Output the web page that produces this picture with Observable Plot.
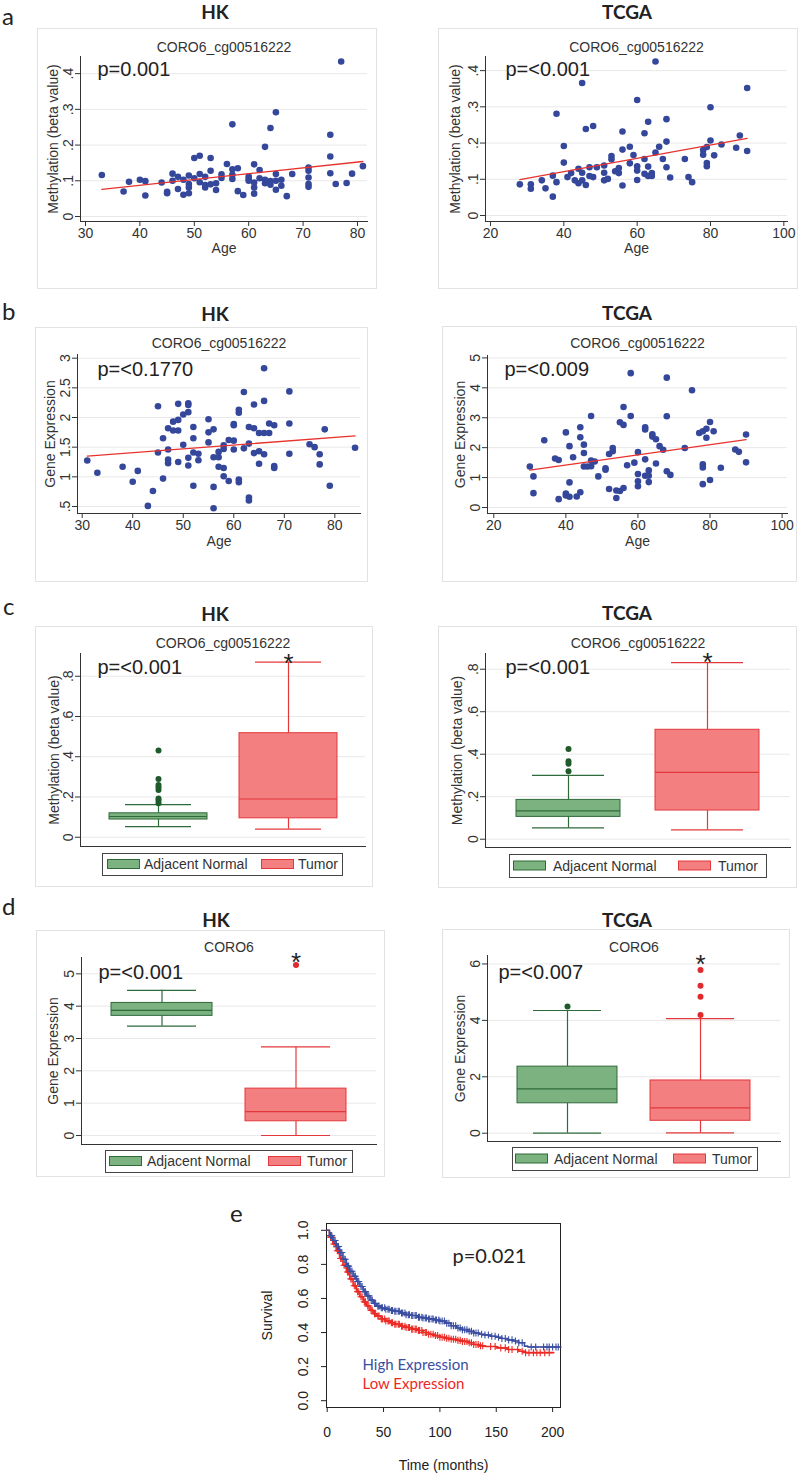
<!DOCTYPE html>
<html><head><meta charset="utf-8">
<script src="https://cdn.jsdelivr.net/npm/d3@7"></script>
<script src="https://cdn.jsdelivr.net/npm/@observablehq/plot@0.6"></script>
<style>
html,body{margin:0;padding:0;background:#fff;}
#root{position:relative;width:800px;height:1479px;overflow:hidden;background:#fff;}
#root svg{position:absolute;}
</style></head><body><div id="root"></div>
<script>
// ---------------- DATA ----------------
const probe = "CORO6_cg00516222";
const gene = "CORO6";
const groups = ["Adjacent Normal", "Tumor"];

// a: methylation vs age
const methAgeHK = [[33,.116],[37,.070],[38,.097],[40,.103],[41,.099],[41,.059],[44,.095],[45,.069],[45,.065],[46,.120],[46,.100],[47,.111],[47,.077],[48,.103],[48,.061],[49,.115],[49,.091],[49,.081],[49,.065],[50,.164],[50,.107],[51,.170],[51,.119],[51,.096],[52,.111],[52,.088],[52,.081],[53,.164],[53,.128],[53,.090],[54,.093],[54,.074],[55,.118],[55,.108],[56,.147],[57,.258],[57,.132],[57,.117],[57,.105],[58,.135],[58,.071],[59,.060],[60,.112],[60,.105],[60,.100],[61,.146],[61,.095],[61,.081],[61,.064],[62,.130],[62,.107],[63,.195],[63,.103],[63,.093],[64,.248],[64,.099],[64,.089],[65,.292],[65,.119],[65,.100],[65,.075],[66,.103],[66,.086],[67,.057],[68,.119],[71,.137],[71,.128],[71,.109],[71,.091],[71,.083],[75,.229],[75,.168],[75,.121],[76,.091],[77,.434],[78,.094],[79,.120],[81,.141]];
const methAgeHKFit = [[33,.076],[81,.154]];
const methAgeTCGA = [[28,.086],[31,.086],[31,.074],[34,.097],[35,.075],[37,.052],[37,.110],[38,.281],[38,.092],[40,.192],[40,.146],[41,.106],[42,.117],[43,.097],[44,.129],[44,.089],[45,.366],[45,.118],[45,.097],[46,.239],[46,.084],[47,.133],[47,.109],[48,.247],[48,.106],[49,.133],[51,.138],[51,.118],[51,.097],[52,.101],[53,.164],[53,.155],[54,.122],[55,.131],[55,.117],[56,.232],[56,.182],[56,.083],[58,.190],[58,.144],[59,.167],[60,.319],[60,.136],[60,.124],[60,.098],[62,.227],[62,.156],[62,.115],[63,.259],[63,.135],[63,.109],[64,.117],[64,.109],[65,.425],[65,.174],[66,.190],[67,.156],[68,.266],[68,.204],[68,.133],[69,.105],[73,.156],[74,.106],[75,.092],[78,.181],[78,.168],[79,.189],[79,.145],[79,.136],[80,.299],[80,.207],[81,.166],[83,.196],[87,.187],[88,.221],[90,.352],[90,.178]];
const methAgeTCGAFit = [[28,.099],[90,.213]];

// b: expression vs age
const exprAgeHK = [[31,1.275],[33,1.07],[38,1.17],[40,0.916],[41,1.10],[43,0.51],[44,0.76],[45,2.19],[45,1.41],[46,1.65],[46,0.97],[47,1.82],[47,1.46],[47,1.29],[47,1.23],[48,1.93],[48,1.78],[49,2.23],[49,1.96],[49,1.78],[49,1.25],[50,2.05],[50,1.54],[51,2.24],[51,2.21],[51,2.09],[51,1.32],[51,1.19],[52,1.84],[52,1.65],[52,1.41],[52,0.85],[53,1.39],[53,1.28],[55,1.97],[55,1.75],[55,1.58],[56,1.80],[56,1.33],[56,0.83],[56,0.47],[57,1.42],[57,1.33],[57,1.17],[58,1.53],[58,1.47],[58,1.15],[58,1.01],[59,1.62],[59,0.93],[60,1.89],[60,1.87],[60,1.61],[60,1.46],[61,2.13],[61,2.08],[61,0.955],[61,0.91],[62,2.43],[62,1.48],[63,1.84],[63,1.56],[63,0.65],[63,0.60],[64,2.22],[64,1.82],[64,1.40],[65,1.74],[65,1.43],[65,1.22],[66,2.83],[66,2.28],[66,1.74],[66,1.38],[67,1.90],[67,1.74],[68,1.87],[68,1.18],[68,1.15],[71,2.44],[71,1.90],[71,1.39],[75,1.55],[76,1.50],[77,1.38],[77,1.21],[78,1.80],[79,0.85],[84,1.49]];
const exprAgeHKFit = [[31,1.35],[84,1.69]];
const exprAgeTCGA = [[30,1.37],[31,1.04],[31,0.48],[34,2.25],[37,1.64],[38,1.59],[38,0.28],[40,2.51],[40,0.47],[40,0.40],[41,2.05],[41,0.84],[41,0.36],[42,1.68],[43,0.37],[44,2.68],[44,2.35],[44,0.51],[45,2.10],[45,1.82],[45,1.37],[46,1.37],[47,3.06],[47,1.57],[47,1.38],[48,1.54],[49,1.04],[51,1.31],[51,1.26],[52,1.79],[52,0.62],[53,1.99],[53,1.88],[54,0.57],[54,0.32],[55,2.85],[55,0.55],[56,3.36],[56,2.76],[56,0.65],[57,1.41],[58,4.49],[58,3.06],[59,1.50],[60,1.85],[60,1.12],[60,0.88],[60,0.71],[62,2.68],[62,2.61],[62,1.61],[62,1.06],[63,1.24],[63,1.06],[63,0.85],[64,2.45],[64,2.37],[65,2.28],[65,1.47],[66,2.05],[67,1.93],[68,4.34],[68,3.05],[68,1.21],[69,1.09],[73,1.99],[75,3.92],[77,2.49],[78,2.55],[78,1.44],[78,1.34],[78,0.78],[79,2.63],[79,2.33],[80,2.86],[80,0.92],[81,2.55],[83,1.33],[87,1.94],[88,1.86],[90,2.44],[90,1.51]];
const exprAgeTCGAFit = [[30,1.25],[90,2.27]];

// c: methylation box summaries (lo whisker, Q1, median, Q3, hi whisker)
const methBoxHK = [
  {group:"Adjacent Normal", lo:.053, q1:.088, med:.103, q3:.119, hi:.162},
  {group:"Tumor", lo:.040, q1:.094, med:.190, q3:.517, hi:.870}];
const methOutHK = [{group:"Adjacent Normal", v:.169},{group:"Adjacent Normal", v:.182},{group:"Adjacent Normal", v:.192},{group:"Adjacent Normal", v:.235},{group:"Adjacent Normal", v:.248},{group:"Adjacent Normal", v:.260},{group:"Adjacent Normal", v:.290},{group:"Adjacent Normal", v:.431}];
const methBoxTCGA = [
  {group:"Adjacent Normal", lo:.053, q1:.105, med:.133, q3:.185, hi:.300},
  {group:"Tumor", lo:.044, q1:.135, med:.315, q3:.515, hi:.831}];
const methOutTCGA = [{group:"Adjacent Normal", v:.320},{group:"Adjacent Normal", v:.355},{group:"Adjacent Normal", v:.367},{group:"Adjacent Normal", v:.425}];

// d: expression box summaries
const exprBoxHK = [
  {group:"Adjacent Normal", lo:3.38, q1:3.70, med:3.87, q3:4.10, hi:4.49},
  {group:"Tumor", lo:0.0, q1:0.44, med:0.74, q3:1.45, hi:2.74}];
const exprOutHK = [{group:"Tumor", v:5.27}];
const exprBoxTCGA = [
  {group:"Adjacent Normal", lo:0.0, q1:1.06, med:1.57, q3:2.36, hi:4.35},
  {group:"Tumor", lo:0.01, q1:0.44, med:0.90, q3:1.87, hi:4.06}];
const exprOutTCGA = [{group:"Adjacent Normal", v:4.49},{group:"Tumor", v:4.19},{group:"Tumor", v:4.84},{group:"Tumor", v:5.23},{group:"Tumor", v:5.79}];

// e: Kaplan-Meier (time in months, survival)
const kmHigh = [[0,1.0],[2,0.97],[5,0.94],[8,0.905],[11,0.87],[14,0.83],[17,0.79],[20,0.76],[23,0.73],[26,0.70],[29,0.67],[32,0.64],[35,0.615],[38,0.59],[41,0.57],[44,0.555],[48,0.545],[52,0.537],[56,0.53],[60,0.525],[65,0.515],[70,0.505],[75,0.50],[80,0.49],[85,0.485],[90,0.48],[95,0.474],[100,0.468],[105,0.455],[110,0.44],[115,0.427],[120,0.417],[125,0.407],[130,0.397],[135,0.39],[140,0.385],[145,0.378],[150,0.372],[155,0.365],[160,0.357],[165,0.35],[170,0.34],[175,0.32],[178,0.315],[206,0.315]];
const kmLow = [[0,1.0],[2,0.96],[5,0.92],[8,0.88],[11,0.835],[14,0.795],[17,0.755],[20,0.715],[23,0.675],[26,0.64],[29,0.61],[32,0.58],[35,0.556],[38,0.53],[41,0.51],[44,0.497],[48,0.48],[52,0.468],[56,0.458],[60,0.448],[65,0.437],[70,0.43],[75,0.42],[80,0.412],[85,0.40],[90,0.39],[95,0.382],[100,0.372],[105,0.366],[110,0.36],[115,0.354],[120,0.348],[125,0.34],[130,0.33],[135,0.322],[140,0.318],[150,0.31],[160,0.30],[170,0.29],[176,0.282],[201,0.282]];
const censorHigh = [3,4,6,7,9,10,12,13,15,16,18,19,21,22,24,25,27,28,30,31,33,34,36,37,39,40,42,43,45,46,48,49,51,52,54,55,57,58,60,61,63,64,66,67,69,70,72,73,75,76,78,79,81,82,84,85,87,88,90,91,93,94,96,97,99,100,102,104,106,108,110,112,114,116,118,120,122,124,126,128,130,132,134,137,140,143,146,149,152,155,158,161,164,167,170,173,181,185,192,195,197,200,203,205];
const censorLow = [3,4,6,7,9,10,12,13,15,16,18,19,21,22,24,25,27,28,30,31,33,34,36,37,39,40,42,43,45,46,48,49,51,52,54,55,57,58,60,61,63,64,66,67,69,70,72,73,75,76,78,79,81,82,84,85,87,88,90,92,94,96,98,100,102,104,106,108,110,112,114,116,118,120,122,124,126,128,130,132,134,136,138,145,149,154,158,161,164,169,173,176,179,183,186,189,193,197];

// tick values
const ticksAge30 = [30,40,50,60,70,80];
const ticksAge20 = [20,40,60,80,100];
const ticksMethA = [0,.1,.2,.3,.4];
const ticksExprBHK = [.5,1,1.5,2,2.5,3];
const ticksExprB = [0,1,2,3,4,5];
const ticksMethC = [0,.2,.4,.6,.8];
const ticksExprDHK = [0,1,2,3,4,5];
const ticksExprDTCGA = [0,2,4,6];
const ticksKmX = [0,50,100,150,200];
const ticksKmY = [0,.2,.4,.6,.8,1];

// ---------------- STYLE ----------------
const NAVY="#34479a", FITRED="#e8322e";
const GREEN_FILL="#7cb180", GREEN_LINE="#2f6a3b", RED_FILL="#f37f80", RED_LINE="#e3383b";
const KM_BLUE="#3a4ea2", KM_RED="#ec2a25";
const SANS="'Liberation Sans', Arial, sans-serif", HEAD="Lato, 'Open Sans', sans-serif";
const stataFmt = d => d === 0 ? "0" : String(d).replace(/^0\./, ".");
const root = document.getElementById("root");

function margins(box, fr){
  return {width: box.w, height: box.h, marginLeft: fr.l-box.x, marginTop: fr.t-box.y,
          marginRight: box.x+box.w-fr.r, marginBottom: box.y+box.h-fr.b};
}
function place(svg, box){ svg.style.left = box.x+"px"; svg.style.top = box.y+"px"; root.appendChild(svg); }
const baseStyle = {fontFamily: SANS, fontSize: "14px", color: "#333", background: "white", overflow: "visible"};

function commonMarks(c){
  return [
    Plot.gridY(c.yTicks, {stroke:"#e8e8e8", strokeOpacity:1}),
    Plot.frame({anchor:"left", stroke:"#333"}),
    Plot.frame({anchor:"bottom", stroke:"#333"}),
    Plot.axisY(c.yTicks, {tickSize:5, tickPadding:3, tickRotate:-90, tickFormat:stataFmt, label:null, fontSize:14}),
    Plot.text([c.subtitle], {text:d=>d, frameAnchor:"top", dy:c.subDy, lineAnchor:"middle", textAnchor:"middle", fontSize:14, fill:"#333"}),
    Plot.text([c.p], {text:d=>d, frameAnchor:"top-left", dx:c.pdx, dy:c.pdy, lineAnchor:"bottom", textAnchor:"start", fontSize:20, fill:"#222"}),
    Plot.text([c.ylabel], {text:d=>d, frameAnchor:"left", dx:c.ylabDx, rotate:-90, lineAnchor:"middle", textAnchor:"middle", fontSize:14, fill:"#333"})
  ];
}

function scatter(c){
  const svg = Plot.plot({
    ...margins(c.box, c.frame), style: baseStyle,
    x:{domain:c.xDomain}, y:{domain:c.yDomain},
    marks:[
      ...commonMarks(c),
      Plot.axisX(c.xTicks, {tickSize:5, tickPadding:2, label:null, fontSize:14}),
      Plot.text(["Age"], {text:d=>d, frameAnchor:"bottom", dy:c.xlabDy, lineAnchor:"middle", textAnchor:"middle", fontSize:14, fill:"#333"}),
      Plot.dot(c.data, {x:d=>d[0], y:d=>d[1], r:3.3, fill:NAVY}),
      Plot.line(c.fit, {x:d=>d[0], y:d=>d[1], stroke:FITRED, strokeWidth:1.3})
    ]
  });
  place(svg, c.box);
}

const lineOf = d => d.group === "Tumor" ? RED_LINE : GREEN_LINE;
const fillOf = d => d.group === "Tumor" ? RED_FILL : GREEN_FILL;
const dotOf = d => d.group === "Tumor" ? "#e02b2e" : "#1f5a2b";

function boxplot(c){
  const svg = Plot.plot({
    ...margins(c.box, c.frame), style: baseStyle,
    x:{type:"band", domain:groups, paddingInner:0.25, paddingOuter:0.22, axis:null},
    y:{domain:c.yDomain},
    marks:[
      ...commonMarks(c),
      Plot.ruleX(c.stats, {x:"group", y1:"q3", y2:"hi", stroke:lineOf, strokeWidth:1.2}),
      Plot.ruleX(c.stats, {x:"group", y1:"lo", y2:"q1", stroke:lineOf, strokeWidth:1.2}),
      Plot.tickY(c.stats, {x:"group", y:"hi", stroke:lineOf, strokeWidth:1.2, insetLeft:16, insetRight:16}),
      Plot.tickY(c.stats, {x:"group", y:"lo", stroke:lineOf, strokeWidth:1.2, insetLeft:16, insetRight:16}),
      Plot.barY(c.stats, {x:"group", y1:"q1", y2:"q3", fill:fillOf, stroke:lineOf, strokeWidth:1}),
      Plot.tickY(c.stats, {x:"group", y:"med", stroke:lineOf, strokeWidth:1.2}),
      Plot.dot(c.out, {x:"group", y:"v", r:3, fill:dotOf}),
      Plot.text(["*"], {text:d=>d, x:()=>"Tumor", frameAnchor:"top", dy:c.astDy, lineAnchor:"bottom", textAnchor:"middle", fontSize:26, fill:"#222"})
    ]
  });
  place(svg, c.box);
}

// ---------------- PANELS ----------------
const scatters = [
  {box:{x:37,y:28,w:340,h:261}, frame:{l:80,t:56,r:367,b:221}, xDomain:[29.08,81.84], yDomain:[-0.014,0.448],
   xTicks:ticksAge30, yTicks:ticksMethA, data:methAgeHK, fit:methAgeHKFit, ylabel:"Methylation (beta value)",
   ylabDx:-27, xlabDy:27, subtitle:probe, subDy:-9, p:"p=0.001", pdx:17, pdy:19},
  {box:{x:438,y:28,w:360,h:261}, frame:{l:485,t:56,r:787,b:221}, xDomain:[18.64,101.0], yDomain:[-0.0166,0.439],
   xTicks:ticksAge20, yTicks:ticksMethA, data:methAgeTCGA, fit:methAgeTCGAFit, ylabel:"Methylation (beta value)",
   ylabDx:-30, xlabDy:27, subtitle:probe, subDy:-9, p:"p=<0.001", pdx:20, pdy:19},
  {box:{x:35,y:327,w:333,h:255}, frame:{l:77,t:354,r:360,b:513}, xDomain:[29.07,85.08], yDomain:[0.382,3.062],
   xTicks:ticksAge30, yTicks:ticksExprBHK, data:exprAgeHK, fit:exprAgeHKFit, ylabel:"Gene Expression",
   ylabDx:-27, xlabDy:28, subtitle:probe, subDy:-11, p:"p=<0.1770", pdx:20, pdy:21},
  {box:{x:442,y:326,w:355,h:256}, frame:{l:487,t:355,r:787,b:513}, xDomain:[18.25,101.5], yDomain:[-0.2,5.08],
   xTicks:ticksAge20, yTicks:ticksExprB, data:exprAgeTCGA, fit:exprAgeTCGAFit, ylabel:"Gene Expression",
   ylabDx:-27, xlabDy:28, subtitle:probe, subDy:-12, p:"p=<0.009", pdx:17, pdy:20}
];
scatters.forEach(scatter);

const boxes = [
  {box:{x:35,y:626,w:338,h:261}, frame:{l:80,t:653,r:365,b:846}, yDomain:[-0.046,0.913], yTicks:ticksMethC,
   stats:methBoxHK, out:methOutHK, ylabel:"Methylation (beta value)", ylabDx:-26, subtitle:probe, subDy:-10,
   p:"p=<0.001", pdx:17, pdy:20, astDy:18,
   legend:{x:102,y:853,w:240,h:22,s1:107,t1:144,s2:261,t2:298}},
  {box:{x:438,y:626,w:359,h:262}, frame:{l:485,t:653,r:790,b:847}, yDomain:[-0.039,0.874], yTicks:ticksMethC,
   stats:methBoxTCGA, out:methOutTCGA, ylabel:"Methylation (beta value)", ylabDx:-28, subtitle:probe, subDy:-10,
   p:"p=<0.001", pdx:20, pdy:20, astDy:17,
   legend:{x:509,y:854,w:257,h:23,s1:513,t1:553,s2:678,t2:718}},
  {box:{x:36,y:930,w:349,h:247}, frame:{l:81,t:957,r:376,b:1144}, yDomain:[-0.278,5.505], yTicks:ticksExprDHK,
   stats:exprBoxHK, out:exprOutHK, ylabel:"Gene Expression", ylabDx:-28, subtitle:gene, subDy:-10,
   p:"p=<0.001", pdx:17, pdy:21, astDy:13,
   legend:{x:105,y:1150,w:247,h:22,s1:109,t1:147,s2:268,t2:307}},
  {box:{x:442,y:929,w:348,h:249}, frame:{l:487,t:955,r:780,b:1141}, yDomain:[-0.294,6.30], yTicks:ticksExprDTCGA,
   stats:exprBoxTCGA, out:exprOutTCGA, ylabel:"Gene Expression", ylabDx:-27, subtitle:gene, subDy:-8,
   p:"p=<0.007", pdx:11, pdy:23, astDy:17,
   legend:{x:512,y:1147,w:245,h:23,s1:515,t1:554,s2:673,t2:712}}
];
boxes.forEach(boxplot);

// e: Kaplan-Meier
const stepAt = (curve, t) => { let s = curve[0][1]; for (const [tt, ss] of curve) { if (tt <= t) s = ss; else break; } return s; };
const kmBox = {x:220,y:1190,w:360,h:289}, kmFrame = {l:326,t:1223,r:560,b:1407};
const km = Plot.plot({
  ...margins(kmBox, kmFrame), style:{...baseStyle, color:"#222"},
  x:{domain:[-0.6,207]}, y:{domain:[-0.04,1.04]},
  marks:[
    Plot.frame({stroke:"#222"}),
    Plot.axisX(ticksKmX, {tickSize:5, tickPadding:15, label:null, fontSize:14}),
    Plot.axisY(ticksKmY, {tickSize:5, tickPadding:14, tickRotate:-90, tickFormat:d3.format(".1f"), label:null, fontSize:14}),
    Plot.line(kmLow, {x:d=>d[0], y:d=>d[1], curve:"step-after", stroke:KM_RED, strokeWidth:1.6}),
    Plot.dot(censorLow, {x:d=>d, y:d=>stepAt(kmLow, d), symbol:"plus", r:2.4, stroke:KM_RED, strokeWidth:1.1}),
    Plot.line(kmHigh, {x:d=>d[0], y:d=>d[1], curve:"step-after", stroke:KM_BLUE, strokeWidth:1.6}),
    Plot.dot(censorHigh, {x:d=>d, y:d=>stepAt(kmHigh, d), symbol:"plus", r:2.4, stroke:KM_BLUE, strokeWidth:1.1}),
    Plot.text(["p=0.021"], {text:d=>d, frameAnchor:"top-left", dx:126, dy:39, lineAnchor:"bottom", textAnchor:"start", fontFamily:HEAD, fontSize:20, fill:"#222"}),
    Plot.text(["High Expression"], {text:d=>d, frameAnchor:"top-left", dx:36, dy:146, lineAnchor:"bottom", textAnchor:"start", fontFamily:HEAD, fontSize:15, fill:KM_BLUE}),
    Plot.text(["Low Expression"], {text:d=>d, frameAnchor:"top-left", dx:36, dy:165, lineAnchor:"bottom", textAnchor:"start", fontFamily:HEAD, fontSize:15, fill:KM_RED}),
    Plot.text(["Survival"], {text:d=>d, frameAnchor:"left", dx:-59, rotate:-90, lineAnchor:"middle", textAnchor:"middle", fontSize:14}),
    Plot.text(["Time (months)"], {text:d=>d, frameAnchor:"bottom", dy:58, lineAnchor:"middle", textAnchor:"middle", fontSize:14})
  ]
});
place(km, kmBox);

// ---------------- OVERLAY: panel letters, titles, box frames, legends ----------------
const ov = d3.create("svg").attr("width",800).attr("height",1479)
  .style("left","0px").style("top","0px").style("pointer-events","none");
[...scatters, ...boxes].forEach(c => {
  ov.append("rect").attr("x",c.box.x+0.5).attr("y",c.box.y+0.5).attr("width",c.box.w-1).attr("height",c.box.h-1)
    .attr("fill","none").attr("stroke","#e2e2e2");
});
const letters = [["a",2,25],["b",2,320],["c",3,615],["d",2,915],["e",230,1222]];
letters.forEach(([t,x,y]) => ov.append("text").attr("x",x).attr("y",y).text(t)
  .attr("font-family",HEAD).attr("font-size",24).attr("fill","#222"));
const titles = [["HK",215,19],["TCGA",627,19],["HK",215,321],["TCGA",627,320],["HK",215,621],["TCGA",627,620],["HK",216,927],["TCGA",627,927]];
titles.forEach(([t,x,y]) => ov.append("text").attr("x",x).attr("y",y).text(t).attr("text-anchor","middle")
  .attr("font-family",HEAD).attr("font-weight","bold").attr("font-size",19).attr("fill","#222"));
boxes.forEach(c => {
  const L = c.legend, cy = L.y + L.h/2;
  ov.append("rect").attr("x",L.x+0.5).attr("y",L.y+0.5).attr("width",L.w).attr("height",L.h)
    .attr("fill","white").attr("stroke","#444");
  [[L.s1,L.t1,GREEN_FILL,GREEN_LINE,groups[0]],[L.s2,L.t2,RED_FILL,RED_LINE,groups[1]]].forEach(([sx,tx,f,s,label]) => {
    ov.append("rect").attr("x",sx+0.5).attr("y",cy-4.5).attr("width",32).attr("height",9).attr("fill",f).attr("stroke",s);
    ov.append("text").attr("x",tx).attr("y",cy).attr("dy","0.36em").text(label)
      .attr("font-family",SANS).attr("font-size",14).attr("fill","#333");
  });
});
root.appendChild(ov.node());
</script></body></html>
